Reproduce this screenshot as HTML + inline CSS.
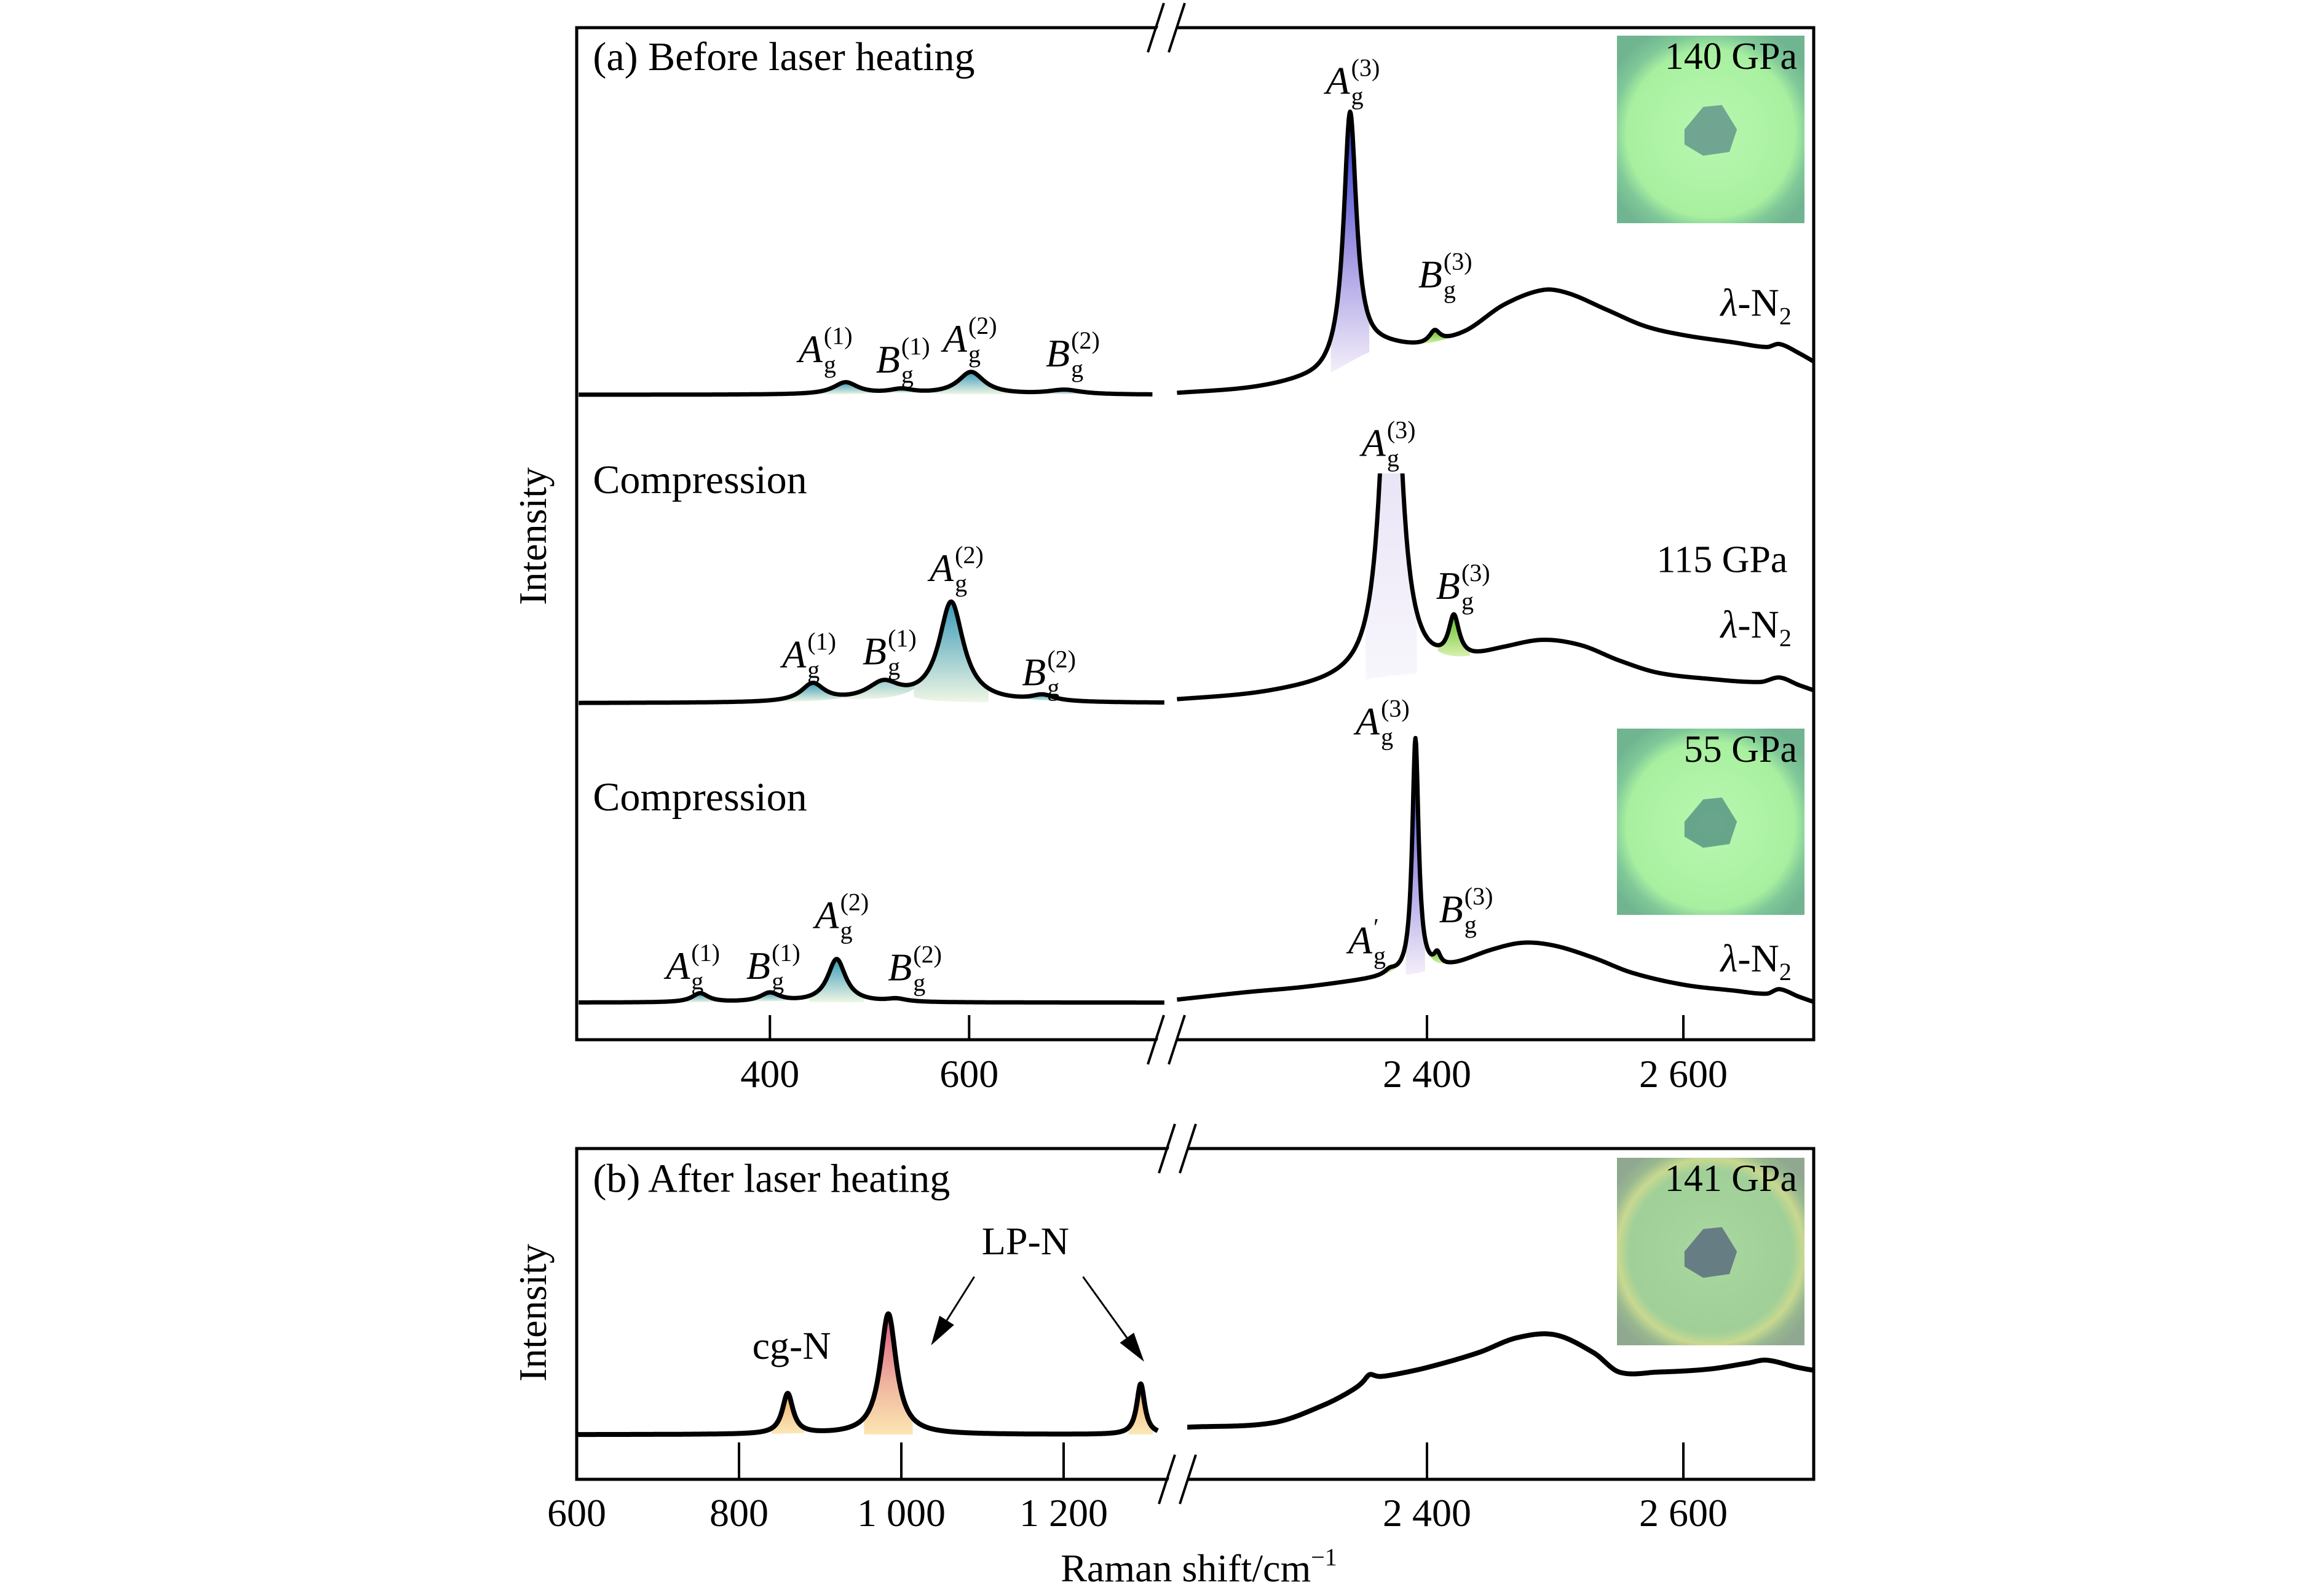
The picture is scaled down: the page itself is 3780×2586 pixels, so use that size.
<!DOCTYPE html>
<html><head><meta charset="utf-8"><style>
html,body{margin:0;padding:0;background:#fff;}
svg{display:block;}
text{font-family:"Liberation Serif",serif;fill:#000;}
</style></head><body>
<svg id="chart" width="3780" height="2586" viewBox="0 0 3780 2586" xmlns="http://www.w3.org/2000/svg">
<defs>
<linearGradient id="gBlue" x1="0" y1="0" x2="0" y2="1"><stop offset="0" stop-color="#2030d0"/><stop offset="0.5" stop-color="#9a90e0"/><stop offset="1" stop-color="#f4eefa"/></linearGradient>
<linearGradient id="gLav" x1="0" y1="0" x2="0" y2="1"><stop offset="0" stop-color="#d8d0f0"/><stop offset="1" stop-color="#f8f6fc"/></linearGradient>
<linearGradient id="gTeal" x1="0" y1="0" x2="0" y2="1"><stop offset="0" stop-color="#3a9ab8"/><stop offset="1" stop-color="#eef6e4"/></linearGradient>
<linearGradient id="gGreen" x1="0" y1="0" x2="0" y2="1"><stop offset="0" stop-color="#60c020"/><stop offset="1" stop-color="#d8f0b0"/></linearGradient>
<linearGradient id="gPink" x1="0" y1="0" x2="0" y2="1"><stop offset="0" stop-color="#d85a80"/><stop offset="0.6" stop-color="#f0b8a0"/><stop offset="1" stop-color="#fbe6b0"/></linearGradient>
<linearGradient id="gYel" x1="0" y1="0" x2="0" y2="1"><stop offset="0" stop-color="#f0b070"/><stop offset="1" stop-color="#fbe8b8"/></linearGradient>
<radialGradient id="gInset" cx="0.5" cy="0.52" r="0.62"><stop offset="0" stop-color="#b8f8b0"/><stop offset="0.72" stop-color="#a8f0a0"/><stop offset="0.85" stop-color="#80c898"/><stop offset="1" stop-color="#70b490"/></radialGradient>
<radialGradient id="gInset2" cx="0.5" cy="0.5" r="0.62"><stop offset="0" stop-color="#a8d8a0"/><stop offset="0.7" stop-color="#a0d098"/><stop offset="0.8" stop-color="#c8d890"/><stop offset="0.9" stop-color="#98b890"/><stop offset="1" stop-color="#90a890"/></radialGradient>
<clipPath id="clipT2"><rect x="0" y="770" width="3780" height="2000"/></clipPath>
</defs>
<g id="plot"></g>
</svg>
<script>
// ---------------- data ----------------
// panel (a) trace 1: 140 GPa
const t1LeftPeaks = [[476, 8, 15], [532, 3, 15], [602, 15, 16], [696, 3, 20]]; // center, height, hwhm
const t1RightBase = [[2205,1],[2260,4],[2300,9],[2320,13],[2360,30],[2400,33],[2430,42],[2460,60],[2490,70],[2510,68],[2540,57],[2570,46],[2600,40],[2640,35],[2665,32],[2675,34],[2690,28],[2710,18]];
const t1RightPeaks = [[2340, 168, 6], [2406, 8, 5]];
// trace 2: 115 GPa
const t2LeftPeaks = [[443, 12, 14], [514, 12, 20], [582, 67, 15], [674, 4, 14]];
const t2RightBase = [[2205,2],[2260,5],[2300,9],[2340,14],[2370,18],[2400,20],[2430,26],[2460,35],[2490,41],[2520,38],[2550,28],[2580,20],[2620,16],[2660,14],[2675,17],[2690,12],[2710,6]];
const t2RightPeaks = [[2372, 300, 8], [2421, 28, 5]];
// trace 3: 55 GPa
const t3LeftPeaks = [[330, 6, 10], [400, 6, 12], [467, 29, 11], [527, 2, 12]];
const t3RightBase = [[2205,2],[2260,7],[2300,10],[2340,14],[2370,17],[2390,19],[2420,25],[2450,35],[2475,40],[2500,38],[2530,30],[2560,20],[2600,12],[2640,8],[2665,6],[2675,9],[2690,4],[2710,-2]];
const t3RightPeaks = [[2371, 3, 5], [2391, 158, 3], [2408, 8, 3]];
// panel (b)
const bLeftPeaks = [[860, 27, 8], [984, 81, 12], [1295, 34, 6]];
const bRightBase = [[2213,5],[2280,8],[2320,20],[2350,33],[2360,37],[2400,45],[2440,55],[2470,65],[2500,67],[2530,55],[2550,42],[2580,42],[2620,44],[2650,48],[2665,50],[2690,45],[2710,42]];
const bRightPeaks = [[2355, 5, 5]];
const ticksALeft = [400, 600];
const ticksRight = [2400, 2600];
const ticksBLeft = [600, 800, 1000, 1200];
const tickLabels = {400:"400",600:"600",800:"800",1000:"1 000",1200:"1 200",2400:"2 400",2600:"2 600"};

// ---------------- layout ----------------
const S = 2.423;
const NS = "http://www.w3.org/2000/svg";
const plot = document.getElementById('plot');
const xaL = v => 938 + (v - 206) * 1.62;
const xR = v => 2321 + (v - 2400) * 2.085;
const xbL = v => 938 + (v - 600) * 1.32;
function el(tag, attrs, parent) {
  const e = document.createElementNS(NS, tag);
  for (const k in attrs) e.setAttribute(k, attrs[k]);
  (parent || plot).appendChild(e);
  return e;
}
function interp(base, x) {
  if (!base) return 0;
  const n = base.length;
  if (x <= base[0][0]) return base[0][1];
  if (x >= base[n-1][0]) return base[n-1][1];
  for (let i = 1; i < n; i++) {
    if (x <= base[i][0]) {
      const p1 = base[i-1], p2 = base[i];
      const p0 = base[Math.max(0, i-2)], p3 = base[Math.min(n-1, i+1)];
      const t = (x - p1[0]) / (p2[0] - p1[0]);
      const h = p2[0] - p1[0];
      const m1 = (p2[1] - p0[1]) / (p2[0] - p0[0] || 1) * h;
      const m2 = (p3[1] - p1[1]) / (p3[0] - p1[0] || 1) * h;
      const t2 = t*t, t3 = t2*t;
      return (2*t3-3*t2+1)*p1[1] + (t3-2*t2+t)*m1 + (-2*t3+3*t2)*p2[1] + (t3-t2)*m2;
    }
  }
  return base[n-1][1];
}
const lor = (p, x) => p[1] / (1 + Math.pow((x - p[0]) / p[2], 2));
function total(peaks, base, x) { let s = interp(base, x); peaks.forEach(p => s += lor(p, x)); return s; }

function trace(name, x0, x1, xf, baseY, peaks, base, fills, clip, width) {
  const g = el('g', clip ? {'clip-path': 'url(#' + clip + ')'} : {});
  
  
  peaks.forEach((p, i) => {
    if (!fills[i]) return;
    const a = Math.max(x0, p[0] - 2.5 * p[2]), b = Math.min(x1, p[0] + 2.5 * p[2]);
    let top = [], bot = [];
    for (let v = a; v <= b; v += 0.5) {
      const t = total(peaks, base, v);
      top.push(xf(v).toFixed(1) + ',' + (baseY - t * S).toFixed(1));
      bot.unshift(xf(v).toFixed(1) + ',' + (baseY - (t - lor(p, v)) * S).toFixed(1));
    }
    const f = el('polygon', {points: top.concat(bot).join(' '), fill: 'url(#' + fills[i] + ')', stroke: 'none'}, g);
    
    
  });
  let pts = [];
  for (let v = x0; v <= x1; v += 0.5) pts.push(xf(v).toFixed(1) + ',' + (baseY - total(peaks, base, v) * S).toFixed(1));
  const l = el('polyline', {points: pts.join(' '), fill: 'none', stroke: '#000', 'stroke-width': width || 7, 'stroke-linejoin': 'round'}, g);
  
  
}

function frame(name, x, y, w, h) {
  const r = el('rect', {x: x, y: y, width: w, height: h, fill: 'none', stroke: '#000', 'stroke-width': 5});
  
  
}

// traces (a)
trace('trace-140gpa-left', 208, 784, xaL, 265 * S, t1LeftPeaks, null, ['gTeal', 'gTeal', 'gTeal', 'gTeal']);
trace('trace-140gpa-right', 2205, 2702, xR, 265 * S, t1RightPeaks, t1RightBase, ['gBlue', 'gGreen']);
trace('trace-115gpa-left', 208, 796, xaL, 472 * S, t2LeftPeaks, null, ['gTeal', 'gTeal', 'gTeal', 'gTeal']);
trace('trace-115gpa-right', 2205, 2702, xR, 472 * S, t2RightPeaks, t2RightBase, ['gLav', 'gGreen'], 'clipT2');
trace('trace-55gpa-left', 208, 796, xaL, 673 * S, t3LeftPeaks, null, ['gTeal', 'gTeal', 'gTeal', 'gTeal']);
trace('trace-55gpa-right', 2205, 2702, xR, 673 * S, t3RightPeaks, t3RightBase, ['gGreen', 'gBlue', 'gGreen']);
// traces (b)
trace('trace-after-heating-left', 601, 1316, xbL, 963 * S, bLeftPeaks, null, ['gYel', 'gPink', 'gYel'], null, 8);
trace('trace-after-heating-right', 2213, 2702, xR, 963 * S, bRightPeaks, bRightBase, [null], null, 8);

frame('panel-a-frame', 938, 45, 2012, 1646);
frame('panel-b-frame', 938, 1868, 2012, 538);

function ticks(list, xf, yBot, len, yLab, prefix) {
  list.forEach(v => {
    const t = el('line', {x1: xf(v), x2: xf(v), y1: yBot, y2: yBot - len, stroke: '#000', 'stroke-width': 4});
    
    
    const tx = el('text', {x: xf(v), y: yLab, 'font-size': 64, 'text-anchor': 'middle'});
    tx.textContent = tickLabels[v];
    
    
  });
}
ticks(ticksALeft, xaL, 1691, 40, 1768, 'a-x');
ticks(ticksRight, xR, 1691, 40, 1768, 'a-x');
ticks(ticksBLeft.filter(v => v > 600), xbL, 2406, 60, 2482, 'b-x');
ticks(ticksRight, xR, 2406, 60, 2482, 'b-x');
{ const t = el('text', {x: xbL(600), y: 2482, 'font-size': 64, 'text-anchor': 'middle'}); t.textContent = '600';
  
   }

function brk(name, cx, cy) {
  const g = el('g', {});
  
  
  el('polygon', {points: `${cx-30},${cy+38} ${cx+2},${cy-38} ${cx+34},${cy-38} ${cx+2},${cy+38}`, fill: '#fff'}, g);
  el('line', {x1: cx - 30, y1: cy + 40, x2: cx - 4, y2: cy - 40, stroke: '#000', 'stroke-width': 4}, g);
  el('line', {x1: cx + 4, y1: cy + 40, x2: cx + 30, y2: cy - 40, stroke: '#000', 'stroke-width': 4}, g);
}
brk('a-top-break', 1897, 45);
brk('a-bottom-break', 1897, 1691);
brk('b-top-break', 1915, 1868);
brk('b-bottom-break', 1915, 2406);

function inset(name, x, y, w, h, grad, label, blob) {
  const g = el('g', {});
  
  
  el('rect', {x: x, y: y, width: w, height: h, fill: 'url(#' + grad + ')'}, g);
  el('path', {d: `M${x+w*0.36},${y+h*0.5} L${x+w*0.46},${y+h*0.38} L${x+w*0.56},${y+h*0.37} L${x+w*0.64},${y+h*0.5} L${x+w*0.6},${y+h*0.62} L${x+w*0.46},${y+h*0.64} L${x+w*0.36},${y+h*0.58} Z`, fill: blob, opacity: 0.75}, g);
  const t = el('text', {x: x + w - 12, y: y + 54, 'font-size': 62, 'text-anchor': 'end'}, g);
  t.textContent = label;
}
inset('inset-140gpa', 2630, 58, 305, 305, 'gInset', '140 GPa', '#5a8a88');
inset('inset-55gpa', 2630, 1185, 305, 303, 'gInset', '55 GPa', '#4e8a80');
inset('inset-141gpa', 2630, 1883, 305, 305, 'gInset2', '141 GPa', '#50607a');

function txt(name, s, x, y, size, extra) {
  const t = el('text', Object.assign({x: x * S, y: y * S, 'font-size': size}, extra || {}));
  t.textContent = s;
  
  
  return t;
}
function mode(name, letter, sup, x, y) {
  const g = el('g', {});
  
  
  const a = el('text', {x: x * S, y: y * S, 'font-size': 64, 'font-style': 'italic'}, g); a.textContent = letter;
  const b = el('text', {x: (x + 17) * S, y: (y - 12) * S, 'font-size': 40}, g); b.textContent = sup;
  const c = el('text', {x: (x + 17) * S, y: (y + 7) * S, 'font-size': 40}, g); c.textContent = 'g';
}
txt('panel-a-title', '(a) Before laser heating', 398, 47, 66);
txt('panel-b-title', '(b) After laser heating', 398, 800, 66);
txt('compression-label-1', 'Compression', 398, 331, 66);
txt('compression-label-2', 'Compression', 398, 544, 66);
txt('pressure-115gpa', '115 GPa', 1112, 384, 62);
[[212],[428],[652]].forEach((p, i) => {
  const g = el('text', {x: 1155 * S, y: p[0] * S, 'font-size': 64});
  
  
  g.innerHTML = '<tspan font-style="italic">λ</tspan>-N<tspan font-size="40" dy="14">2</tspan>';
});
mode('t1-ag1', 'A', '(1)', 536, 243); mode('t1-bg1', 'B', '(1)', 588, 250);
mode('t1-ag2', 'A', '(2)', 633, 236); mode('t1-bg2', 'B', '(2)', 702, 246);
mode('t1-ag3', 'A', '(3)', 890, 63); mode('t1-bg3', 'B', '(3)', 952, 193);
mode('t2-ag1', 'A', '(1)', 525, 448); mode('t2-bg1', 'B', '(1)', 579, 446);
mode('t2-ag2', 'A', '(2)', 624, 390); mode('t2-bg2', 'B', '(2)', 686, 460);
mode('t2-ag3', 'A', '(3)', 914, 306); mode('t2-bg3', 'B', '(3)', 964, 402);
mode('t3-ag1', 'A', '(1)', 447, 657); mode('t3-bg1', 'B', '(1)', 501, 657);
mode('t3-ag2', 'A', '(2)', 547, 623); mode('t3-bg2', 'B', '(2)', 596, 658);
mode('t3-ag3', 'A', '(3)', 910, 493); mode('t3-bg3', 'B', '(3)', 966, 619);
mode('t3-ag-prime', 'A', '′', 905, 640);
txt('lp-n-label', 'LP-N', 659, 842, 64);
txt('cg-n-label', 'cg-N', 505, 912, 64);
function arrow(name, x1, y1, x2, y2) {
  const g = el('g', {});
  
  
  x1 *= S; y1 *= S; x2 *= S; y2 *= S;
  const ang = Math.atan2(y2 - y1, x2 - x1), L = 48, W = 14;
  const bx = x2 - L * Math.cos(ang), by = y2 - L * Math.sin(ang);
  el('line', {x1: x1, y1: y1, x2: bx, y2: by, stroke: '#000', 'stroke-width': 3}, g);
  el('polygon', {points: `${x2},${y2} ${bx - W * Math.sin(ang)},${by + W * Math.cos(ang)} ${bx + W * Math.sin(ang)},${by - W * Math.cos(ang)}`, fill: '#000'}, g);
}
arrow('lp-n-arrow-1', 654, 857, 625, 903);
arrow('lp-n-arrow-2', 727, 857, 768, 914);
{ const t = el('text', {x: 1950, y: 2572, 'font-size': 64, 'text-anchor': 'middle'});
  t.innerHTML = 'Raman shift/cm<tspan font-size="40" dy="-26">−1</tspan>';
  
   }
{ const t = el('text', {x: 0, y: 0, 'font-size': 64, 'text-anchor': 'middle', transform: 'translate(888,872) rotate(-90)'});
  t.textContent = 'Intensity';
  
   }
{ const t = el('text', {x: 0, y: 0, 'font-size': 64, 'text-anchor': 'middle', transform: 'translate(888,2135) rotate(-90)'});
  t.textContent = 'Intensity';
  
   }
</script>
</body></html>
